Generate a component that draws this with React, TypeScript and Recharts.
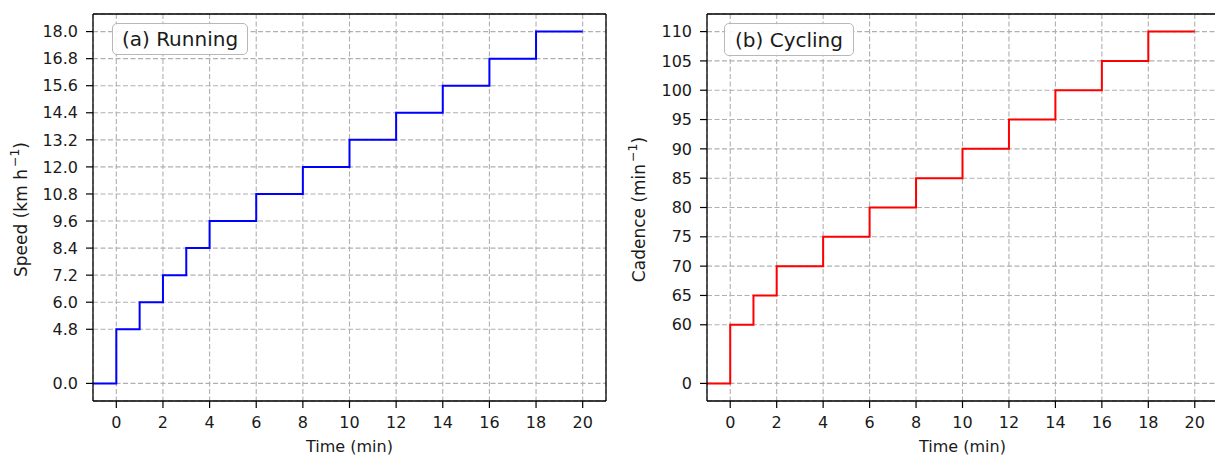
import React from "react";
import { LineChart, Line, XAxis, YAxis, CartesianGrid, Label, ReferenceLine } from "recharts";

// running protocol (a)
const runTimes = [-1, 0, 1, 2, 3, 4, 6, 8, 10, 12, 14, 16, 18, 20];
const runSpeed = [0, 4.8, 6.0, 7.2, 8.4, 9.6, 10.8, 12.0, 13.2, 14.4, 15.6, 16.8, 18.0, 18.0];
const speedTicks = [0, 4.8, 6.0, 7.2, 8.4, 9.6, 10.8, 12.0, 13.2, 14.4, 15.6, 16.8, 18.0];

// cycling protocol (b)
const cycleTimes = [-1, 0, 1, 2, 4, 6, 8, 10, 12, 14, 16, 18, 20];
const cadence = [0, 60, 65, 70, 75, 80, 85, 90, 95, 100, 105, 110, 110];
const cadenceTicks = [0, 60, 65, 70, 75, 80, 85, 90, 95, 100, 105, 110];

const timeTicks = [0, 2, 4, 6, 8, 10, 12, 14, 16, 18, 20];
const timeDomain = [-1, 21];

// the y axes are compressed below the first stage (0 sits two steps under it)
const speedAxis = (v: number) => (v >= 4.8 ? v : 2.4 + v / 2);
const speedInv = (p: number) => (p >= 4.8 ? p : (p - 2.4) * 2);
const cadenceAxis = (v: number) => (v >= 60 ? v : 50 + v / 6);
const cadenceInv = (p: number) => (p >= 60 ? p : (p - 50) * 6);

const runData = runTimes.map((t, i) => ({ t, y: speedAxis(runSpeed[i]) }));
const cycleData = cycleTimes.map((t, i) => ({ t, y: cadenceAxis(cadence[i]) }));

const FONT = "DejaVu Sans";
const INK = "#1a1a1a";
const tickStyle = { fontSize: 16, fill: INK, fontFamily: FONT };
const axisLine = { stroke: "#000", strokeWidth: 1.3 };
const tickLine = { stroke: "#000", strokeWidth: 1.2 };

function YTitle({ viewBox, x, main, sup }: any) {
  const cy = viewBox.y + viewBox.height / 2 + 2;
  return (
    <text
      x={x}
      y={cy}
      transform={`rotate(-90 ${x} ${cy})`}
      textAnchor="middle"
      dominantBaseline="middle"
      fontSize={17}
      fontFamily={FONT}
      fill={INK}
    >
      {main}
      <tspan dx={2} dy={-7} fontSize={12.5}>
        {sup}
      </tspan>
      <tspan dy={7}>)</tspan>
    </text>
  );
}

function Panel({
  data,
  color,
  domain,
  ticks,
  fmt,
  yWidth,
  right,
  width,
  titleX,
  main,
  sup,
}: any) {
  return (
    <LineChart width={width} height={455} data={data} margin={{ top: 14, right, bottom: 0, left: 0 }}>
      <CartesianGrid stroke="#b0b0b0" strokeDasharray="5 2.5" strokeWidth={1.1} />
      <XAxis
        dataKey="t"
        type="number"
        domain={timeDomain}
        ticks={timeTicks}
        allowDataOverflow
        height={54}
        tick={tickStyle}
        tickSize={7}
        tickMargin={9}
        axisLine={axisLine}
        tickLine={tickLine}
      >
        <Label value="Time (min)" position="insideBottom" offset={3} fontSize={16} fontFamily={FONT} fill={INK} />
      </XAxis>
      <YAxis
        type="number"
        domain={domain}
        ticks={ticks}
        allowDataOverflow
        interval={0}
        width={yWidth}
        tick={tickStyle}
        tickSize={7}
        tickMargin={8}
        tickFormatter={fmt}
        axisLine={axisLine}
        tickLine={tickLine}
      >
        <Label content={(p: any) => <YTitle {...p} x={titleX} main={main} sup={sup} />} />
      </YAxis>
      {/* top and right spines */}
      <ReferenceLine y={domain[1]} stroke="#000" strokeWidth={1.3} />
      <ReferenceLine x={timeDomain[1]} stroke="#000" strokeWidth={1.3} />
      <Line
        type="stepAfter"
        dataKey="y"
        stroke={color}
        strokeWidth={2}
        dot={false}
        activeDot={false}
        isAnimationActive={false}
      />
    </LineChart>
  );
}

function Tag({ left, top, w, h, text }: any) {
  return (
    <div
      style={{
        position: "absolute",
        left,
        top,
        width: w,
        height: h,
        boxSizing: "border-box",
        border: "1.6px solid #b8b8b8",
        borderRadius: 5,
        background: "rgba(255,255,255,0.9)",
        display: "flex",
        alignItems: "center",
        justifyContent: "center",
        fontFamily: FONT,
        fontSize: 20,
        color: INK,
        whiteSpace: "nowrap",
      }}
    >
      {text}
    </div>
  );
}

export default function App() {
  return (
    <div
      style={{
        position: "fixed",
        left: 0,
        top: 0,
        width: 1215,
        height: 455,
        overflow: "hidden",
        background: "#fff",
        fontFamily: FONT,
      }}
    >
      <div style={{ position: "absolute", left: 0, top: 0 }}>
        <Panel
          data={runData}
          color="#0000ff"
          domain={[1.62, 18.78]}
          ticks={speedTicks.map(speedAxis)}
          fmt={(p: number) => speedInv(p).toFixed(1)}
          yWidth={93}
          right={9}
          width={615}
          titleX={22}
          main="Speed (km h"
          sup="−1"
        />
      </div>
      <div style={{ position: "absolute", left: 615, top: 0 }}>
        <Panel
          data={cycleData}
          color="#ff0000"
          domain={[47, 113]}
          ticks={cadenceTicks.map(cadenceAxis)}
          fmt={(p: number) => String(Math.round(cadenceInv(p)))}
          yWidth={92}
          right={12}
          width={615}
          titleX={25}
          main="Cadence (min"
          sup="−1"
        />
      </div>
      <Tag left={112} top={23} w={136} h={32} text="(a) Running" />
      <Tag left={724} top={23} w={130} h={33} text="(b) Cycling" />
    </div>
  );
}
